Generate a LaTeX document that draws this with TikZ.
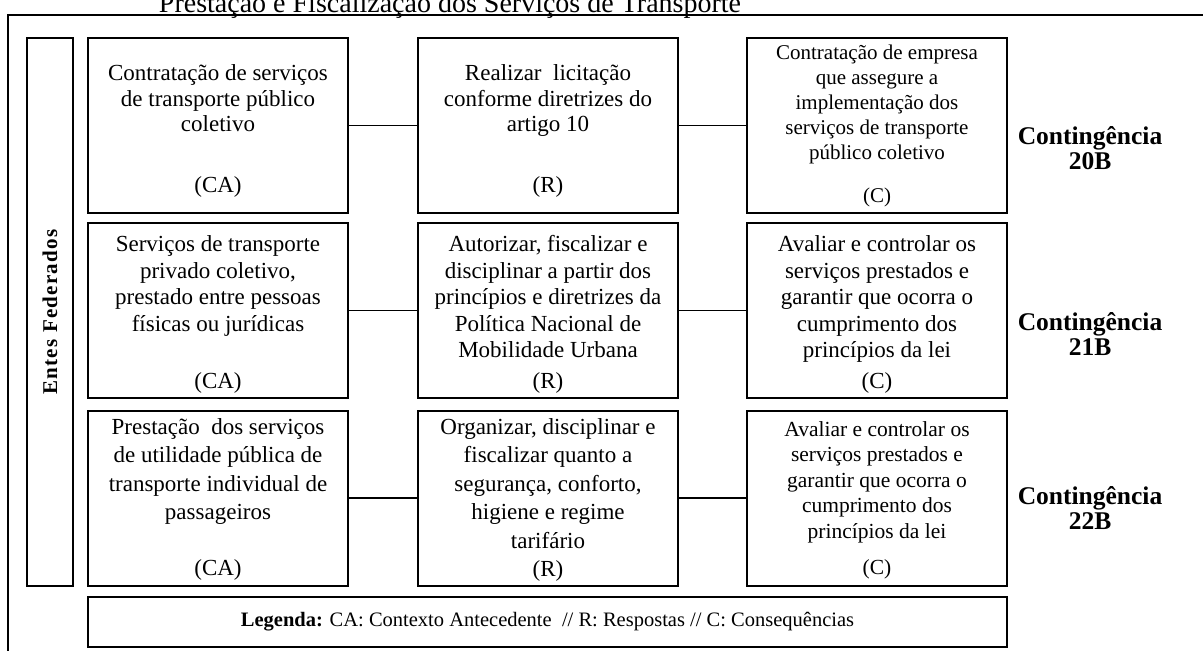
\documentclass[tikz,border=0pt]{standalone}
\usepackage{fontspec}
\setmainfont{Liberation Serif}
\usepackage{tikz}
\usetikzlibrary{positioning}

% cell content: top gap, bottom gap, text, tag
\newcommand{\celltext}[4]{\parbox[c][175pt][t]{260pt}{\centering\vspace*{#1}\strut#3\par\vfill\strut#4\par\vspace*{#2}}}

\tikzset{
  cellbox/.style={draw, line width=2pt, minimum width=260pt, minimum height=175pt, inner sep=0pt},
  rowA/.style={font=\fontsize{23}{25.5}\selectfont},
  rowB/.style={font=\fontsize{23}{26.5}\selectfont},
  rowC/.style={font=\fontsize{23}{28.5}\selectfont},
  contlabel/.style={font=\fontsize{25.5}{25.5}\selectfont\bfseries, align=center},
  link/.style={line width=1.9pt}
}

\begin{document}
\begin{tikzpicture}[x=1pt, y=-1pt]
\useasboundingbox (0,0) rectangle (1203,651);

% Title
\node[anchor=base, font=\fontsize{28}{30}\selectfont, inner sep=0pt] (title) at (450,12.5) {Prestação e Fiscalização dos Serviços de Transporte};

% Outer frame
\draw[line width=2pt] (8,660) -- (8,15) -- (1212,15);

% Entes Federados
\node[draw, line width=2pt, minimum width=46pt, minimum height=548pt, inner sep=0pt] (entes) at (50,312) {};
\node[rotate=90, font=\fontsize{21}{21}\selectfont\bfseries\addfontfeatures{LetterSpace=6}] (entestext) at (entes.center) {Entes Federados};

% Contingencia 20B
\node[cellbox, rowA] (ca20) at (218,125.5) {\celltext{25pt}{13pt}{Contratação de serviços\\de transporte público\\coletivo}{(CA)}};
\node[cellbox, rowA] (r20) at (548,125.5) {\celltext{25pt}{13pt}{Realizar\ \ licitação\\conforme diretrizes do\\artigo 10}{(R)}};
\node[cellbox, font=\fontsize{21}{25}\selectfont] (c20) at (877,125.5) {\celltext{4pt}{3pt}{Contratação de empresa\\que assegure a\\implementação dos\\serviços de transporte\\público coletivo}{(C)}};
\node[contlabel] (k20) at (1090,148) {Contingência\\20B};

% Contingencia 21B
\node[cellbox, rowB] (ca21) at (218,310.5) {\celltext{10pt}{2pt}{Serviços de transporte\\privado coletivo,\\prestado entre pessoas\\físicas ou jurídicas}{(CA)}};
\node[cellbox, rowB] (r21) at (548,310.5) {\celltext{10pt}{2pt}{Autorizar, fiscalizar e\\disciplinar a partir dos\\princípios e diretrizes da\\Política Nacional de\\Mobilidade Urbana}{(R)}};
\node[cellbox, rowB] (c21) at (877,310.5) {\celltext{10pt}{2pt}{Avaliar e controlar os\\serviços prestados e\\garantir que ocorra o\\cumprimento dos\\princípios da lei}{(C)}};
\node[contlabel] (k21) at (1090,334) {Contingência\\21B};

% Contingencia 22B
\node[cellbox, rowC] (ca22) at (218,498) {\celltext{4pt}{1pt}{Prestação\ \ dos serviços\\de utilidade pública de\\transporte individual de\\passageiros}{(CA)}};
\node[cellbox, rowC] (r22) at (548,498) {\celltext{4pt}{1pt}{Organizar, disciplinar e\\fiscalizar quanto a\\segurança, conforto,\\higiene e regime\\tarifário}{(R)}};
\node[cellbox, font=\fontsize{21.5}{25.5}\selectfont] (c22) at (877,498) {\celltext{8pt}{3pt}{Avaliar e controlar os\\serviços prestados e\\garantir que ocorra o\\cumprimento dos\\princípios da lei}{(C)}};
\node[contlabel] (k22) at (1090,508) {Contingência\\22B};

% Links
\draw[link] (ca20) -- (r20);
\draw[link] (r20) -- (c20);
\draw[link] (ca21) -- (r21);
\draw[link] (r21) -- (c21);
\draw[link] (ca22) -- (r22);
\draw[link] (r22) -- (c22);

% Legend
\node[draw, line width=2pt, minimum width=919pt, minimum height=50pt, inner sep=0pt, font=\fontsize{20.5}{22}\selectfont] (legend) at (547.5,622) {\textbf{Legenda:} CA: Contexto Antecedente\ \ // R: Respostas // C: Consequências};
\end{tikzpicture}
\end{document}
